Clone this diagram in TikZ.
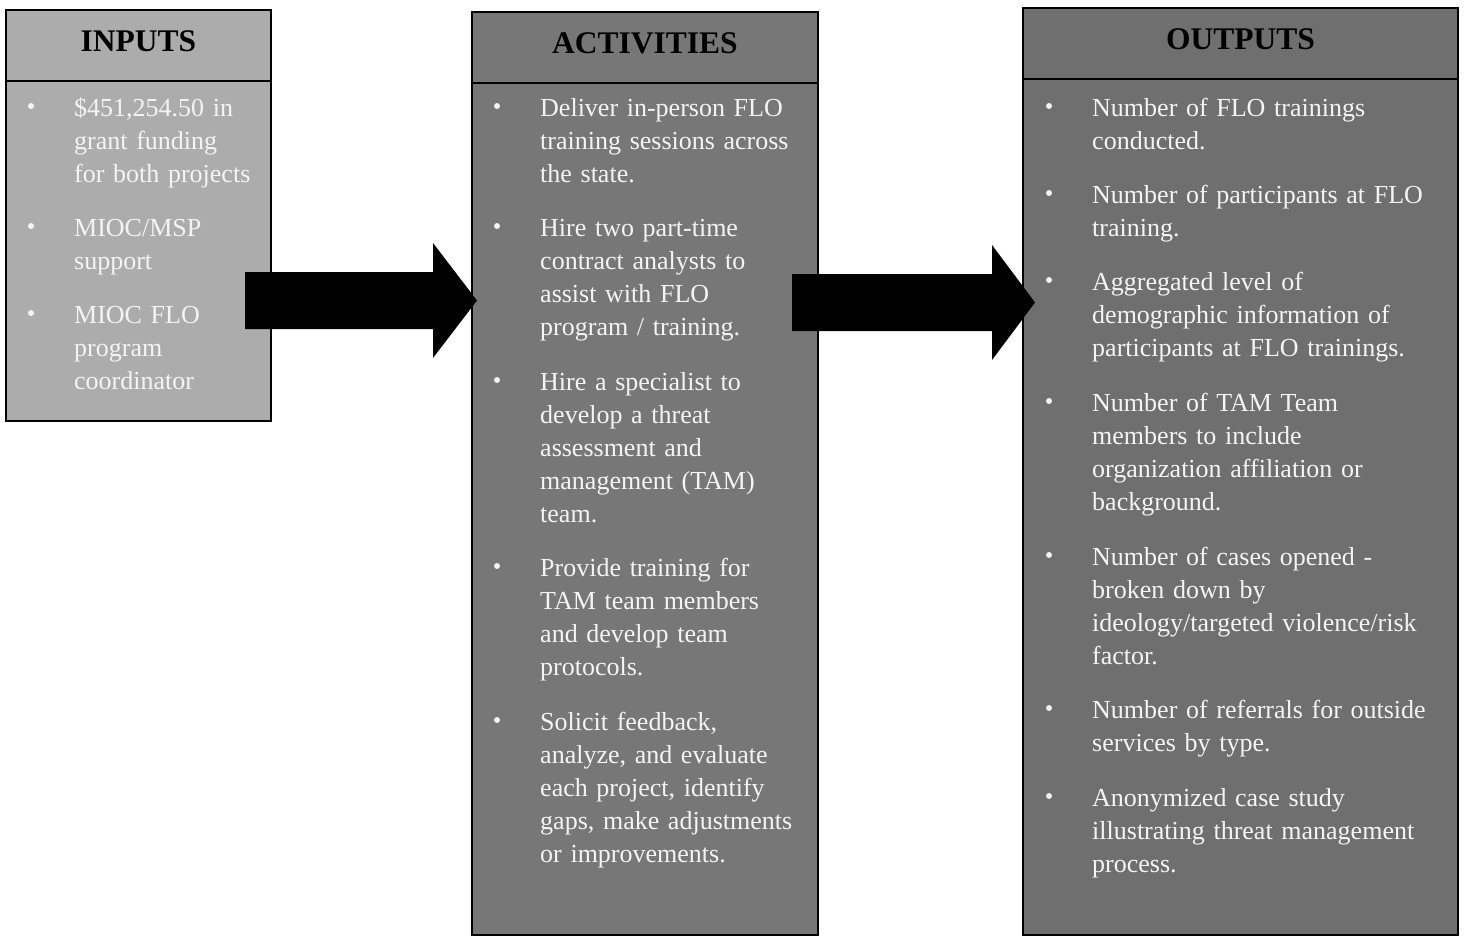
\documentclass[tikz,border=0pt]{standalone}
\usepackage{fontspec}
\setmainfont{Liberation Serif}
\definecolor{ingray}{HTML}{ACACAC}
\definecolor{actgray}{HTML}{777777}
\definecolor{outgray}{HTML}{6F6F6F}
\definecolor{paper}{HTML}{F4F4F4}
\begin{document}
\begin{tikzpicture}[x=1pt,y=-1pt,
    colbox/.style={draw=black, line width=1.6pt},
    headtext/.style={font=\fontsize{31.5}{33}\selectfont\bfseries, text=black},
    itemtext/.style={anchor=base west, align=left, inner sep=0pt, text width=370pt,
      text=paper, font=\fontsize{26}{33}\selectfont}]
  \useasboundingbox (0,0) rectangle (1464,937);

  % the three columns
  \filldraw[colbox, fill=ingray] (6,10) rectangle (271,421);
  \draw[colbox] (6,81) -- (271,81);
  \filldraw[colbox, fill=actgray] (472,12) rectangle (818,935);
  \draw[colbox] (472,83) -- (818,83);
  \filldraw[colbox, fill=outgray] (1023,8) rectangle (1458,935);
  \draw[colbox] (1023,79) -- (1458,79);

  \node[headtext] (inputs) at (138.5,41) {INPUTS};
  \node[headtext] (activities) at (645,43) {ACTIVITIES};
  \node[headtext] (outputs) at (1240.5,39) {OUTPUTS};

  % inputs
  \node[itemtext] (in1) at (74,116) {\$451,254.50 in\\grant funding\\for both projects};
  \node[itemtext] (in2) at (74,236) {MIOC/MSP\\support};
  \node[itemtext] (in3) at (74,323) {MIOC FLO\\program\\coordinator};
  \foreach \y in {106,226,313} \fill[paper] (31,\y) circle (3pt);

  % activities
  \node[itemtext] (act1) at (540,116) {Deliver in-person FLO\\training sessions across\\the state.};
  \node[itemtext] (act2) at (540,236) {Hire two part-time\\contract analysts to\\assist with FLO\\program / training.};
  \node[itemtext] (act3) at (540,390) {Hire a specialist to\\develop a threat\\assessment and\\management (TAM)\\team.};
  \node[itemtext] (act4) at (540,576) {Provide training for\\TAM team members\\and develop team\\protocols.};
  \node[itemtext] (act5) at (540,730) {Solicit feedback,\\analyze, and evaluate\\each project, identify\\gaps, make adjustments\\or improvements.};
  \foreach \y in {106,226,380,566,720} \fill[paper] (497,\y) circle (3pt);

  % outputs
  \node[itemtext] (out1) at (1092,116) {Number of FLO trainings\\conducted.};
  \node[itemtext] (out2) at (1092,203) {Number of participants at FLO\\training.};
  \node[itemtext] (out3) at (1092,290) {Aggregated level of\\demographic information of\\participants at FLO trainings.};
  \node[itemtext] (out4) at (1092,411) {Number of TAM Team\\members to include\\organization affiliation or\\background.};
  \node[itemtext] (out5) at (1092,565) {Number of cases opened -\\broken down by\\ideology/targeted violence/risk\\factor.};
  \node[itemtext] (out6) at (1092,718) {Number of referrals for outside\\services by type.};
  \node[itemtext] (out7) at (1092,806) {Anonymized case study\\illustrating threat management\\process.};
  \foreach \y in {106,193,280,401,555,708,796} \fill[paper] (1049,\y) circle (3pt);

  % block arrows
  \fill (245,272) -- (433,272) -- (433,243) -- (477,300.5) -- (433,358) -- (433,329) -- (245,329) -- cycle;
  \fill (792,274) -- (992,274) -- (992,245) -- (1035,302.5) -- (992,360) -- (992,331) -- (792,331) -- cycle;
\end{tikzpicture}
\end{document}
